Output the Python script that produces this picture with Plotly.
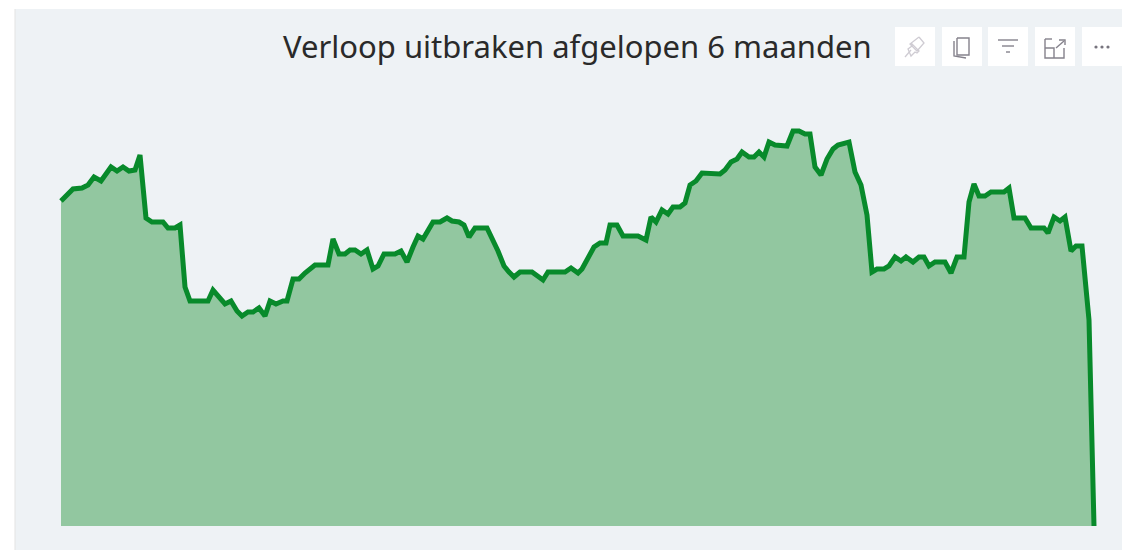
import plotly.graph_objects as go

TITLE = "Verloop uitbraken afgelopen 6 maanden"

# Day position along the unlabelled time axis
days = [0,12,21,27,33,40,50,56,62,68,74,79,85,91,102,107,114,119,124,129,
        147,152,164,170,176,181,187,192,198,204,209,215,222,226,232,238,244,254,267,272,
        278,284,289,294,300,306,312,317,323,334,340,346,352,357,362,372,379,386,391,398,
        403,408,414,426,437,443,448,453,459,471,482,487,504,510,517,521,533,539,545,549,
        556,562,577,585,590,595,601,607,612,619,624,629,635,641,659,664,670,676,681,688,
        693,698,703,708,714,726,732,738,744,749,754,760,766,772,777,783,788,794,800,806,
        811,816,823,828,834,840,845,852,858,863,868,874,884,890,896,903,908,913,918,924,
        930,943,948,953,964,970,983,987,993,999,1004,1010,1015,1021,1028,1033]

# Unitless level
level = [325,337,338,341,349,345,359,355,359,355,356,371,308,304,304,298,298,301,239,225,
         225,236,222,225,215,210,214,214,218,210,225,222,225,225,247,247,253,261,261,287,
         272,272,276,276,272,276,257,260,272,272,275,264,279,290,287,304,304,308,305,304,
         301,289,298,298,275,260,254,249,254,254,246,254,254,258,253,257,279,283,283,301,
         301,290,290,286,309,304,316,312,319,319,323,341,345,353,352,356,364,367,374,369,
         369,374,369,384,381,380,395,395,392,392,359,351,367,377,381,382,384,354,341,311,
         254,257,257,260,269,265,269,264,269,269,260,264,264,253,269,269,324,342,330,330,
         334,334,338,308,308,298,298,293,309,305,309,275,280,280,206,0]

L, R, T, B = 51, 1104, 0, 526
W, H = 1122, 550

def px(x):
    return x / W

def py(y):
    return 1 - y / H

def poly(points):
    return "M " + " L ".join(f"{px(a):.5f},{py(b):.5f}" for a, b in points)

shapes = [
    dict(type="rect", xref="paper", yref="paper", x0=px(15), x1=1, y0=0, y1=py(9),
         fillcolor="#eef2f5", line=dict(width=0), layer="below"),
    dict(type="line", xref="paper", yref="paper", x0=px(15), x1=px(15), y0=0, y1=py(9),
         line=dict(color="#e3e3e3", width=1), layer="below"),
]

for x0, x1 in [(895, 935), (942, 982), (988, 1028), (1035, 1075), (1082, 1122)]:
    shapes.append(dict(type="rect", xref="paper", yref="paper", x0=px(x0), x1=px(x1), y0=py(66), y1=py(27),
                       fillcolor="#ffffff", line=dict(width=0), layer="below"))

ICON = dict(color="#85828c", width=1.4)
PALE = dict(color="#cfccd3", width=1.3)
icon_paths = [
    ([(905, 57), (911, 50)], PALE),
    ([(911, 43), (919, 51), (917, 53), (915, 52), (911, 56), (908, 49), (912, 46), (911, 43)], PALE),
    ([(919, 37), (924, 43), (917, 51), (910, 44), (919, 37)], PALE),
    ([(957, 38), (969, 38), (969, 55), (957, 55), (957, 38)], ICON),
    ([(954, 41), (954, 56), (966, 58)], ICON),
    ([(998, 40), (1018, 40)], ICON),
    ([(1002, 46), (1014, 46)], ICON),
    ([(1006, 52), (1010, 52)], ICON),
    ([(1045, 39), (1052, 39)], ICON),
    ([(1045, 39), (1045, 58), (1064, 58), (1064, 48)], ICON),
    ([(1045, 48), (1054, 48), (1054, 58)], ICON),
    ([(1056, 48), (1064, 41)], ICON),
    ([(1059, 40), (1065, 40), (1065, 45)], ICON),
]
for pts, line in icon_paths:
    shapes.append(dict(type="path", xref="paper", yref="paper", path=poly(pts), line=line, layer="above"))

for cx in (1096, 1102, 1108):
    shapes.append(dict(type="circle", xref="paper", yref="paper", x0=px(cx - 1.6), x1=px(cx + 1.6),
                       y0=py(48.6), y1=py(45.4), fillcolor="#77747e", line=dict(width=0)))

fig = go.Figure(go.Scatter(
    x=days, y=level, mode="lines", fill="tozeroy", fillcolor="#92c7a0",
    line=dict(color="#088a2b", width=5, shape="linear"), hoverinfo="skip",
))

fig.update_layout(
    width=W, height=H,
    margin=dict(l=0, r=0, t=0, b=0),
    paper_bgcolor="#ffffff", plot_bgcolor="rgba(0,0,0,0)",
    showlegend=False, shapes=shapes,
    xaxis=dict(visible=False, range=[-10, 1043], fixedrange=True, domain=[px(L), px(R)]),
    yaxis=dict(visible=False, range=[0, 526], fixedrange=True, domain=[py(B), 1]),
    annotations=[dict(text=TITLE, xref="paper", yref="paper", x=px(577.5), y=py(46),
                      xanchor="center", yanchor="middle", showarrow=False,
                      font=dict(family="Noto Sans", size=31, color="#2a2a2a"))],
)

assert len(days) == len(level), (len(days), len(level))
fig.write_html("out.html", config=dict(displayModeBar=False),
               post_script="document.body.style.margin='0';document.body.style.background='#fff';")
